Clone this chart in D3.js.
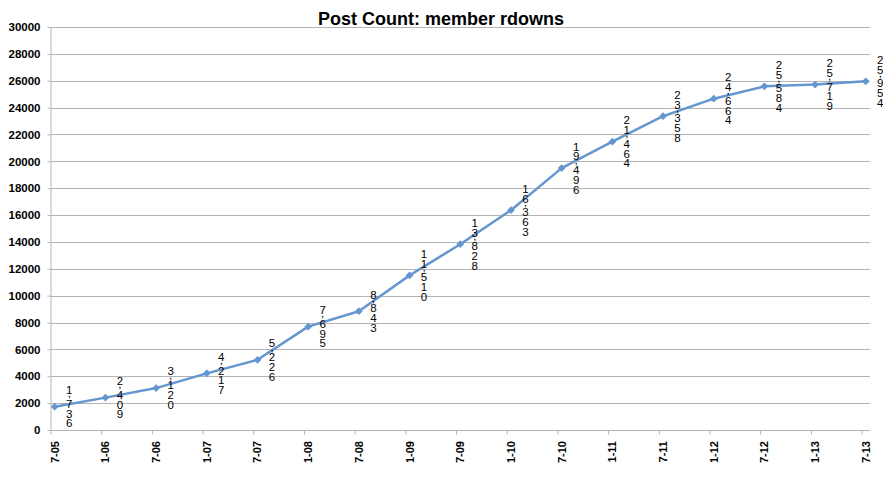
<!DOCTYPE html>
<html>
<head>
<meta charset="utf-8">
<script src="https://cdn.jsdelivr.net/npm/d3@7"></script>
<style>
  body { margin: 0; background: #fff; }
  text { font-family: "Liberation Sans", Arial, sans-serif; }
</style>
</head>
<body>
<div id="wrapper"></div>
<script>
/* DATA */
const periods = ['7-05', '1-06', '7-06', '1-07', '7-07', '1-08', '7-08', '1-09', '7-09',
  '1-10', '7-10', '1-11', '7-11', '1-12', '7-12', '1-13', '7-13'];
const postCounts = [1736, 2409, 3120, 4217, 5226, 7695, 8843, 11510, 13828,
  16363, 19496, 21464, 23358, 24664, 25584, 25719, 25954];
const yTicks = [0, 2000, 4000, 6000, 8000, 10000, 12000, 14000, 16000,
  18000, 20000, 22000, 24000, 26000, 28000, 30000];
const title = 'Post Count: member rdowns';

// months since 7-05, from a "m-yy" label
const monthIndex = p => {
  const [m, y] = p.split('-').map(Number);
  return (2000 + y - 2005) * 12 + (m - 7);
};

const dataset = periods.map((p, i) => ({ period: p, value: postCounts[i] }));

/* CHART DIMENSIONS */
const dimensions = {
  width: 883,
  height: 490,
  left: 50.5,
  right: 870,
  top: 27,
  bottom: 430,
};

/* SCALES */
const xScale = d3.scaleLinear()
  .domain([0, monthIndex('7-13') + 1])
  .range([dimensions.left, dimensions.right]);

const yScale = d3.scaleLinear()
  .domain([0, 30000])
  .range([dimensions.bottom, dimensions.top]);

// points sit half a month past the tick
const xAccessor = d => xScale(monthIndex(d.period) + 0.5);
const yAccessor = d => yScale(d.value);

const svg = d3.select('#wrapper')
  .append('svg')
  .attr('width', dimensions.width)
  .attr('height', dimensions.height);

/* GRID + AXES */
svg.append('g')
  .selectAll('line')
  .data(yTicks.slice(1))
  .join('line')
  .attr('x1', dimensions.left)
  .attr('x2', dimensions.right)
  .attr('y1', d => Math.round(yScale(d)) + 0.5)
  .attr('y2', d => Math.round(yScale(d)) + 0.5)
  .attr('stroke', '#b4b4b4')
  .attr('stroke-width', 1);

const yAxis = svg.append('g')
  .attr('transform', `translate(${dimensions.left},0)`)
  .call(d3.axisLeft(yScale).tickValues(yTicks).tickSize(3).tickPadding(7).tickFormat(d3.format('d')));

const xAxis = svg.append('g')
  .attr('transform', `translate(0,${dimensions.bottom + 0.5})`)
  .call(d3.axisBottom(xScale).tickValues(periods.map(monthIndex)).tickSize(4).tickFormat(''));

[yAxis, xAxis].forEach(ax => {
  ax.select('.domain').attr('stroke', '#b4b4b4');
  ax.selectAll('.tick line').attr('stroke', '#b4b4b4');
});
yAxis.select('.domain').attr('d', `M0.5,${dimensions.top}V${dimensions.bottom}`);
xAxis.select('.domain').attr('d', `M${dimensions.left},0H${dimensions.right}`);

yAxis.selectAll('.tick text')
  .attr('font-size', 11.5)
  .attr('font-weight', 'bold')
  .attr('fill', '#000')
  .attr('font-family', '"Liberation Sans", Arial, sans-serif');

// rotated period labels
svg.append('g')
  .selectAll('text')
  .data(dataset)
  .join('text')
  .attr('transform', d => `translate(${xAccessor(d)},${dimensions.bottom + 11}) rotate(-90)`)
  .attr('text-anchor', 'end')
  .attr('dominant-baseline', 'central')
  .attr('font-size', 11)
  .attr('font-weight', 'bold')
  .text(d => d.period);

/* TITLE */
svg.append('text')
  .attr('x', 441)
  .attr('y', 25)
  .attr('text-anchor', 'middle')
  .attr('font-size', 18)
  .attr('font-weight', 'bold')
  .text(title);

/* LINE + MARKERS */
const lineColor = '#6496cf';

svg.append('path')
  .attr('d', d3.line().x(xAccessor).y(yAccessor)(dataset))
  .attr('fill', 'none')
  .attr('stroke', lineColor)
  .attr('stroke-width', 2.5)
  .attr('stroke-linejoin', 'round');

svg.append('g')
  .selectAll('path')
  .data(dataset)
  .join('path')
  .attr('d', d3.symbol(d3.symbolSquare, 30))
  .attr('transform', d => `translate(${xAccessor(d)},${yAccessor(d)}) rotate(45)`)
  .attr('fill', lineColor);

/* STACKED VALUE LABELS (one character per row, like the source) */
const fmt = d3.format(',');
const digitStep = 9.8;
const commaStep = 4;

svg.append('g')
  .selectAll('text')
  .data(dataset)
  .join('text')
  .attr('transform', d => `translate(${xAccessor(d) + 14.5},${yAccessor(d)})`)
  .attr('text-anchor', 'middle')
  .attr('font-size', 11.5)
  .attr('fill', '#000')
  .each(function (d) {
    const chars = fmt(d.value).split('');
    const total = d3.sum(chars, c => (c === ',' ? commaStep : digitStep));
    let cursor = -total / 2;
    const t = d3.select(this);
    chars.forEach(c => {
      const isComma = c === ',';
      // baseline: digits sit ~4px under their row centre, the comma hangs at the row top
      const y = isComma ? cursor + 2.5 : cursor + digitStep / 2 + 4.1;
      t.append('tspan').attr('x', 0).attr('y', y).text(c);
      cursor += isComma ? commaStep : digitStep;
    });
  });
</script>
</body>
</html>
